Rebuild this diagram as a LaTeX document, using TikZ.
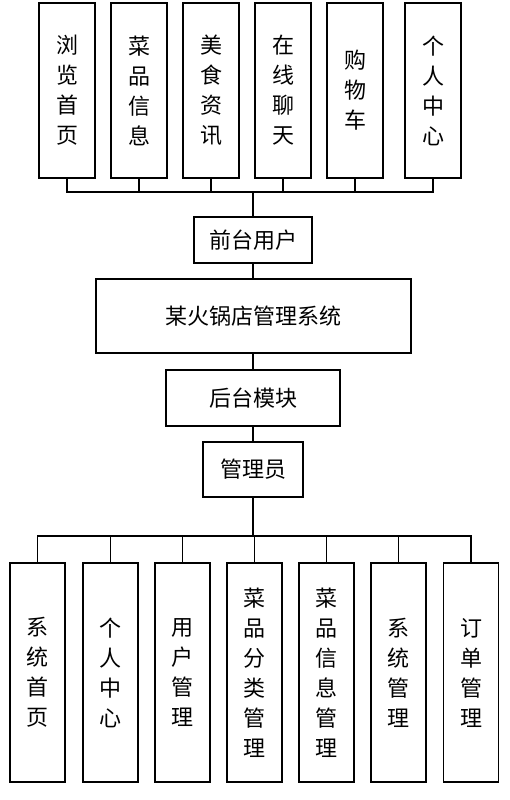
\documentclass[tikz,border=0pt]{standalone}
\usepackage{fontspec}
\newfontfamily\cjk{Noto Sans CJK SC}
\begin{document}
\begin{tikzpicture}[x=1pt,y=-1pt,
  every node/.style={font=\cjk\fontsize{22}{30}\selectfont, inner sep=0pt, align=center},
  vbox/.style={draw, line width=1.4pt, minimum width=56pt, minimum height=175pt},
  lbox/.style={draw, line width=1.4pt, minimum width=55pt, minimum height=219pt},
  hbox/.style={draw, line width=1.4pt},
  conn/.style={line width=1.4pt}]
\useasboundingbox (0,0) rectangle (510,800);
% top modules
\node[vbox] (t1) at (67,90.5) {浏\\览\\首\\页};
\node[vbox] (t2) at (139,90.5) {菜\\品\\信\\息};
\node[vbox] (t3) at (211,90.5) {美\\食\\资\\讯};
\node[vbox] (t4) at (283,90.5) {在\\线\\聊\\天};
\node[vbox] (t5) at (355,90.5) {购\\物\\车};
\node[vbox] (t6) at (433,90.5) {个\\人\\中\\心};
% centre column
\node[hbox, minimum width=118pt, minimum height=46pt] (front) at (253,240) {前台用户};
\node[hbox, minimum width=315pt, minimum height=74pt] (sys) at (253.5,316) {某火锅店管理系统};
\node[hbox, minimum width=174pt, minimum height=56pt] (back) at (253,398) {后台模块};
\node[hbox, minimum width=100pt, minimum height=55pt] (admin) at (253,469.5) {管理员};
% bottom modules
\node[lbox] (b1) at (37.5,672.5) {系\\统\\首\\页};
\node[lbox] (b2) at (110.5,672.5) {个\\人\\中\\心};
\node[lbox] (b3) at (182.5,672.5) {用\\户\\管\\理};
\node[lbox] (b4) at (254.5,672.5) {菜\\品\\分\\类\\管\\理};
\node[lbox] (b5) at (326.5,672.5) {菜\\品\\信\\息\\管\\理};
\node[lbox] (b6) at (398.5,672.5) {系\\统\\管\\理};
\node[lbox] (b7) at (471,672.5) {订\\单\\管\\理};
% connectors
\coordinate (tb) at (253,192);
\coordinate (bb) at (253,536);
\foreach \n in {t1,t2,t3,t4,t5,t6} \draw[conn] (\n.south) |- (tb);
\draw[conn] (tb) -- (front.north);
\draw[conn] (front.south) -- (front.south |- sys.north);
\draw[conn] (sys.south -| back.north) -- (back.north);
\draw[conn] (back.south) -- (admin.north);
\draw[conn] (admin.south) -- (bb);
\foreach \n in {b1,b2,b3,b4,b5,b6,b7} \draw[conn] (bb) -| (\n.north);
\end{tikzpicture}
\end{document}
